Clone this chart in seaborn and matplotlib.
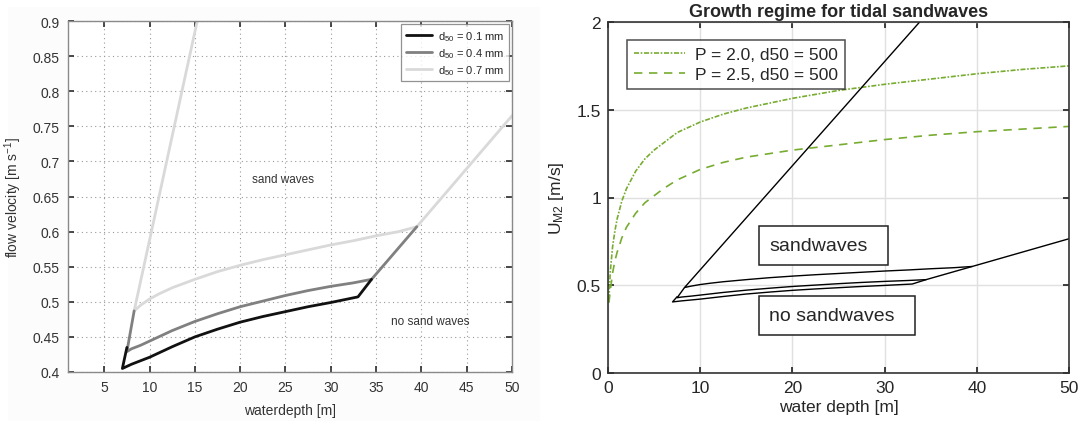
import numpy as np
import pandas as pd
import matplotlib
matplotlib.use("Agg")
import matplotlib.pyplot as plt
import seaborn as sns
from matplotlib.patches import Rectangle

sns.set_theme(style="white")
plt.rcParams['font.family'] = ['Liberation Sans', 'DejaVu Sans']
plt.rcParams['mathtext.fontset'] = 'custom'
plt.rcParams['mathtext.rm'] = 'Liberation Sans'
plt.rcParams['mathtext.it'] = 'Liberation Sans'

# ---------------- data ----------------
# d50 = 0.1 mm boundary
depth_01 = [7.5, 7.0, 7.5, 8.0, 9.0, 10.0, 11.0, 12.5, 15.0, 17.5, 20.0, 22.5, 25.0, 27.5, 30.0, 33.0, 34.5]
vel_01 = [0.435, 0.405, 0.408, 0.411, 0.416, 0.421, 0.427, 0.436, 0.450, 0.461, 0.471, 0.479, 0.486, 0.493, 0.499, 0.507, 0.532]
# d50 = 0.4 mm boundary
depth_04 = [8.3, 7.5, 8.0, 9.0, 10.0, 11.0, 12.5, 15.0, 17.5, 20.0, 22.5, 25.0, 27.5, 30.0, 32.5, 34.5, 39.5]
vel_04 = [0.487, 0.429, 0.433, 0.438, 0.444, 0.450, 0.459, 0.472, 0.483, 0.493, 0.501, 0.509, 0.516, 0.522, 0.527, 0.532, 0.607]
# d50 = 0.7 mm boundary
depth_07 = [33.8, 8.3, 9.0, 10.0, 11.0, 12.5, 15.0, 17.5, 20.0, 22.5, 25.0, 27.5, 30.0, 32.5, 35.0, 37.5, 39.5, 50.0]
vel_07 = [2.0, 0.487, 0.495, 0.504, 0.511, 0.520, 0.532, 0.543, 0.552, 0.560, 0.567, 0.574, 0.581, 0.587, 0.594, 0.600, 0.607, 0.765]

# growth regime curves (right panel)
depth_p = [0.1, 0.25, 0.5, 0.75, 1, 1.5, 2, 3, 4, 5, 6, 7.5, 10, 12.5, 15, 20, 25, 30, 35, 40, 45, 50]
u_p20 = [0.42, 0.58, 0.72, 0.81, 0.88, 0.98, 1.05, 1.15, 1.22, 1.27, 1.31, 1.37, 1.43, 1.475, 1.51, 1.565, 1.61, 1.645, 1.675, 1.705, 1.73, 1.75]
u_p25 = [0.40, 0.47, 0.57, 0.64, 0.69, 0.77, 0.83, 0.91, 0.97, 1.01, 1.05, 1.10, 1.16, 1.20, 1.23, 1.27, 1.30, 1.33, 1.355, 1.375, 1.39, 1.405]

labels_left = ["d$_{50}$ = 0.1 mm", "d$_{50}$ = 0.4 mm", "d$_{50}$ = 0.7 mm"]
labels_right = ["P = 2.0, d50 = 500", "P = 2.5, d50 = 500"]

def frame(x, y):
    return pd.DataFrame({"x": x, "y": y})

fig = plt.figure(figsize=(10.91, 4.27), dpi=100)
fig.patches.append(Rectangle((8 / 1091, 1 - 422 / 427), 532 / 1091, 414 / 427,
                             transform=fig.transFigure, facecolor="#fcfcfc",
                             edgecolor="none", zorder=-10))

# ---------------- left panel ----------------
axL = fig.add_axes([68 / 1091, 1 - 373 / 427, 444 / 1091, 351 / 427])
axL.set_facecolor("white")
series = [(depth_07, vel_07, "#d9d9d9"), (depth_04, vel_04, "#808080"), (depth_01, vel_01, "#111111")]
handles = {}
for (dx, vy, col), lab in zip(series, labels_left[::-1]):
    sns.lineplot(data=frame(dx, vy), x="x", y="y", sort=False, estimator=None,
                 color=col, lw=2.0, ax=axL)
    handles[lab] = axL.lines[-1]
axL.set_xlim(1, 50)
axL.set_ylim(0.4, 0.9)
axL.set_xticks(np.arange(5, 51, 5))
axL.set_yticks(np.arange(0.4, 0.901, 0.05))
axL.set_yticklabels(["0.4", "0.45", "0.5", "0.55", "0.6", "0.65", "0.7", "0.75", "0.8", "0.85", "0.9"])
axL.grid(True, linestyle=(0, (1, 3)), color="#9a9a9a", lw=0.8)
axL.tick_params(direction="in", length=4, labelsize=10, colors="#333333",
                top=True, right=True, bottom=True, left=True, pad=6)
for s in axL.spines.values():
    s.set_color("#8a8a8a")
    s.set_linewidth(1.0)
axL.set_xlabel("waterdepth [m]", fontsize=10, color="#333333", labelpad=6)
axL.set_ylabel("flow velocity [m s$^{-1}$]", fontsize=10, color="#333333", labelpad=6)
axL.text(24.7, 0.675, "sand waves", fontsize=8.5, color="#333333", ha="center", va="center")
axL.text(41.0, 0.473, "no sand waves", fontsize=8.5, color="#333333", ha="center", va="center")
leg = axL.legend([handles[l] for l in labels_left], labels_left, loc="upper right",
                 fontsize=8, frameon=True, fancybox=False, edgecolor="#777777",
                 handlelength=2.4, borderaxespad=0.3, labelspacing=0.3, borderpad=0.4,
                 handletextpad=0.5)
leg.get_frame().set_linewidth(0.9)

# ---------------- right panel ----------------
axR = fig.add_axes([608 / 1091, 1 - 374 / 427, 461 / 1091, 351 / 427])
axR.set_facecolor("white")
green = "#77ac30"
sns.lineplot(data=frame(depth_p, u_p20), x="x", y="y", sort=False, estimator=None,
             color=green, lw=1.2, ax=axR, label=labels_right[0])
axR.lines[-1].set_linestyle((0, (3, 1, 1, 1)))
sns.lineplot(data=frame(depth_p, u_p25), x="x", y="y", sort=False, estimator=None,
             color=green, lw=1.2, ax=axR, label=labels_right[1])
axR.lines[-1].set_linestyle((0, (5, 4)))
for dx, vy in [(depth_07, vel_07), (depth_04, vel_04), (depth_01, vel_01)]:
    sns.lineplot(data=frame(dx, vy), x="x", y="y", sort=False, estimator=None,
                 color="black", lw=1.0, ax=axR, legend=False)
axR.set_xlim(0, 50)
axR.set_ylim(0, 2)
axR.set_xticks(np.arange(0, 51, 10))
axR.set_yticks([0, 0.5, 1, 1.5, 2])
axR.set_yticklabels(["0", "0.5", "1", "1.5", "2"])
axR.grid(True, color="#e0e0e0", lw=1.0)
axR.tick_params(direction="in", length=4, labelsize=12.5, colors="#262626",
                top=True, right=True, bottom=True, left=True, pad=5)
for s in axR.spines.values():
    s.set_color("#333333")
    s.set_linewidth(1.2)
axR.set_xlabel("water depth [m]", fontsize=12.5, color="#262626", labelpad=3)
axR.set_ylabel("U$_{\\mathrm{M2}}$ [m/s]", fontsize=12.5, color="#262626", labelpad=8)
axR.set_title("Growth regime for tidal sandwaves", fontsize=13, fontweight="bold", pad=4)
for (x0, x1, y0, y1) in [(16.4, 30.4, 0.614, 0.835), (16.4, 33.3, 0.216, 0.4375)]:
    axR.add_patch(Rectangle((x0, y0), x1 - x0, y1 - y0, facecolor="white",
                            edgecolor="#222222", lw=1.1, zorder=4))
axR.text(17.5, 0.725, "sandwaves", fontsize=14, ha="left", va="center", zorder=5)
axR.text(17.5, 0.327, "no sandwaves", fontsize=14, ha="left", va="center", zorder=5)
legR = axR.legend(loc="upper left", fontsize=12.5, frameon=True, fancybox=False,
                  edgecolor="#222222", handlelength=2.9, bbox_to_anchor=(0.042, 0.95),
                  borderaxespad=0.0, labelspacing=0.3, handletextpad=0.6)
legR.get_frame().set_linewidth(1.1)

fig.savefig("out.png", dpi=100)
